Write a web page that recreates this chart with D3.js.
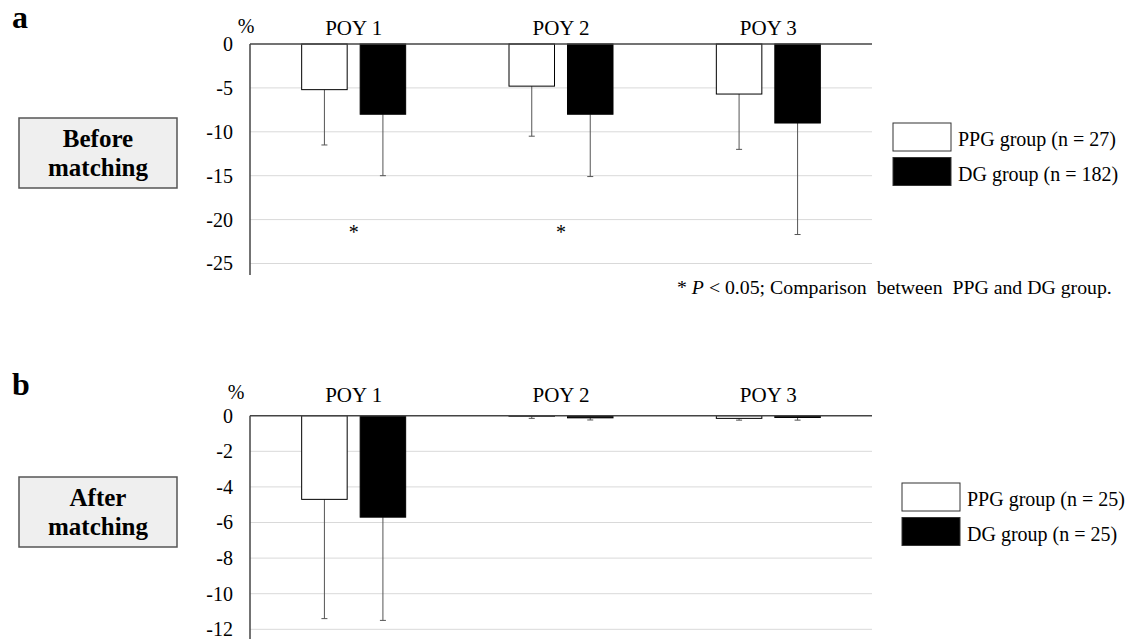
<!DOCTYPE html>
<html><head><meta charset="utf-8">
<script src="https://cdn.jsdelivr.net/npm/d3@7"></script>
<style>body{margin:0;background:#fff}svg{display:block}text{font-family:"Liberation Serif","Times New Roman",serif;fill:#000}</style>
</head><body>
<svg id="c" width="1133" height="639"></svg>
<script>
const categories = ["POY 1", "POY 2", "POY 3"];
const groups = ["PPG", "DG"];
// Panel a: before matching
const aPPGMean = [-5.2, -4.8, -5.7];
const aPPGSD   = [6.3, 5.7, 6.3];
const aDGMean  = [-8.0, -8.0, -9.0];
const aDGSD    = [7.0, 7.1, 12.7];
const aTicks   = [0, -5, -10, -15, -20, -25];
const aStars   = ["POY 1", "POY 2"];
const aLegend  = ["PPG group (n = 27)", "DG group (n = 182)"];
// Panel b: after matching
const bPPGMean = [-4.7, -0.03, -0.15];
const bPPGSD   = [6.7, 0.12, 0.1];
const bDGMean  = [-5.7, -0.12, -0.1];
const bDGSD    = [5.8, 0.12, 0.15];
const bTicks   = [0, -2, -4, -6, -8, -10, -12];
const bLegend  = ["PPG group (n = 25)", "DG group (n = 25)"];

const svg = d3.select("#c");
const fills = {PPG: "#fff", DG: "#000"};

function boldSerif(sel, size) {
  return sel.style("font-family", '"Liberation Serif","Times New Roman",serif')
    .style("font-size", size + "px").style("font-weight", "bold");
}

function panel(o) {
  const g = svg.append("g");
  const x0 = d3.scaleBand().domain(categories).range([250, 872]);
  const bw = x0.bandwidth();
  const pad = (bw - 104) / 2;
  const x1 = d3.scaleBand().domain(groups).range([pad, bw - pad]).paddingInner(0.222);
  const y = d3.scaleLinear().domain([0, o.ymin]).range([o.y0, o.y1]);

  // gridlines
  g.selectAll("line.grid").data(o.ticks.filter(t => t !== 0)).join("line")
    .attr("x1", 250).attr("x2", 872).attr("y1", d => y(d)).attr("y2", d => y(d))
    .attr("stroke", "#d9d9d9").attr("stroke-width", 1);

  // y axis labels
  const ax = d3.axisLeft(y).tickValues(o.ticks).tickSize(0).tickPadding(17).tickFormat(d => String(d));
  const axg = g.append("g").attr("transform", "translate(250,0)").call(ax);
  axg.select(".domain").remove();
  axg.selectAll("text").style("font-family", '"Liberation Serif",serif').style("font-size", "20px").attr("fill", "#000");

  // data
  const rows = categories.map((c, i) => ({c, vals: [
    {grp: "PPG", m: o.ppgM[i], sd: o.ppgSD[i]},
    {grp: "DG", m: o.dgM[i], sd: o.dgSD[i]}]}));
  const cg = g.selectAll("g.cat").data(rows).join("g").attr("transform", d => `translate(${x0(d.c)},0)`);
  // error bars (downward)
  const eb = cg.selectAll("g.eb").data(d => d.vals).join("g");
  eb.append("line")
    .attr("x1", d => x1(d.grp) + x1.bandwidth() / 2).attr("x2", d => x1(d.grp) + x1.bandwidth() / 2)
    .attr("y1", d => y(d.m)).attr("y2", d => y(d.m - d.sd))
    .attr("stroke", "#555").attr("stroke-width", 1);
  eb.append("line")
    .attr("x1", d => x1(d.grp) + x1.bandwidth() / 2 - 3).attr("x2", d => x1(d.grp) + x1.bandwidth() / 2 + 3)
    .attr("y1", d => y(d.m - d.sd)).attr("y2", d => y(d.m - d.sd))
    .attr("stroke", "#555").attr("stroke-width", 1);
  cg.selectAll("rect").data(d => d.vals).join("rect")
    .attr("x", d => x1(d.grp)).attr("width", x1.bandwidth())
    .attr("y", y(0)).attr("height", d => Math.max(0.5, y(d.m) - y(0)))
    .attr("fill", d => fills[d.grp]).attr("stroke", "#000").attr("stroke-width", 1);

  // zero line and left axis line
  g.append("line").attr("x1", 250).attr("x2", 872).attr("y1", y(0)).attr("y2", y(0)).attr("stroke", "#444").attr("stroke-width", 1.5);
  g.append("line").attr("x1", 250).attr("x2", 250).attr("y1", y(0)).attr("y2", o.axisEnd).attr("stroke", "#444").attr("stroke-width", 1.5);

  // category labels
  g.selectAll("text.cat").data(categories).join("text")
    .attr("x", d => x0(d) + bw / 2).attr("y", o.y0 - o.catOff).attr("text-anchor", "middle")
    .style("font-size", "21px").text(d => d);
  g.append("text").attr("x", o.pctX).attr("y", o.y0 - o.pctOff).attr("text-anchor", "middle").style("font-size", "20px").text("%");

  // stars
  if (o.stars) {
    g.selectAll("text.star").data(o.stars).join("text")
      .attr("x", d => x0(d) + bw / 2).attr("y", y(-21) + 11).attr("text-anchor", "middle")
      .style("font-size", "20px").text("*");
  }

  // side box
  g.append("rect").attr("x", 19).attr("y", o.boxY).attr("width", 158).attr("height", 70)
    .attr("fill", "#efefef").attr("stroke", "#555").attr("stroke-width", 1.5);
  boldSerif(g.append("text").attr("x", 98).attr("y", o.boxY + 29).attr("text-anchor", "middle"), 25).text(o.boxL1);
  boldSerif(g.append("text").attr("x", 98).attr("y", o.boxY + 58).attr("text-anchor", "middle"), 25).text("matching");

  // legend
  const lg = g.append("g");
  o.legend.forEach((t, i) => {
    lg.append("rect").attr("x", o.legX).attr("y", o.legY + i * 34.5).attr("width", o.legW).attr("height", 28)
      .attr("fill", fills[groups[i]]).attr("stroke", "#333").attr("stroke-width", 1);
    lg.append("text").attr("x", o.legX + o.legW + 7).attr("y", o.legY + i * 34.5 + 23)
      .style("font-size", "20px").text(t);
  });

  // panel letter
  boldSerif(g.append("text").attr("x", 12).attr("y", o.letterY), 32).text(o.letter);
}

panel({ppgM: aPPGMean, ppgSD: aPPGSD, dgM: aDGMean, dgSD: aDGSD, ticks: aTicks, ymin: -25,
  y0: 44, y1: 263.5, axisEnd: 275, pctX: 246, pctOff: 11, catOff: 9, stars: aStars, boxY: 118, boxL1: "Before",
  legend: aLegend, legX: 893, legY: 123, legW: 58, letter: "a", letterY: 28});
panel({ppgM: bPPGMean, ppgSD: bPPGSD, dgM: bDGMean, dgSD: bDGSD, ticks: bTicks, ymin: -12,
  y0: 415.7, y1: 629.3, axisEnd: 639, pctX: 236, pctOff: 17, catOff: 14, stars: null, boxY: 477, boxL1: "After",
  legend: bLegend, legX: 902, legY: 483, legW: 58, letter: "b", letterY: 395});

// footnote
const fn = svg.append("text").attr("x", 677).attr("y", 294).style("font-size", "19.8px").style("white-space", "pre");
fn.append("tspan").text("* ");
fn.append("tspan").style("font-style", "italic").text("P");
fn.append("tspan").text(" < 0.05; Comparison  between  PPG and DG group.");
</script>
</body></html>
